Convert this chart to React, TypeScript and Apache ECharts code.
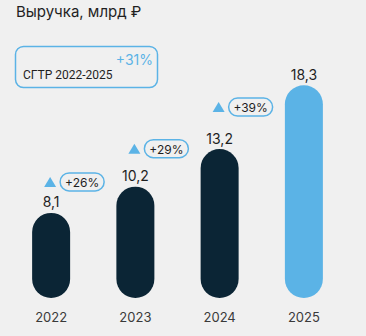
import React, { useEffect, useRef } from "react";
import * as echarts from "echarts";

// Revenue, bn RUB
const years = ["2022", "2023", "2024", "2025"];
const revenue = [8.1, 10.2, 13.2, 18.3];
const revenueLabels = ["8,1", "10,2", "13,2", "18,3"];
// year-over-year growth, shown above the preceding year's bar
const growthLabels = ["+26%", "+29%", "+39%"];
const cagrLabel = "+31%";
const cagrCaption = "СГТР 2022-2025";
const title = "Выручка, млрд ₽";

const DARK = "#0b2535";
const LIGHT = "#5bb3e6";
const TEXT = "#1f1f1f";
const FONT = "Inter, 'Noto Sans', sans-serif";
const BAR_W = 38;
// vertical lift of each growth badge above its bar top, px
const badgeLift = [31, 38, 42];

export default function App() {
  const ref = useRef<HTMLDivElement>(null);

  useEffect(() => {
    if (!ref.current) return;
    const chart = echarts.init(ref.current, null, { renderer: "svg" });

    const barData = revenue.map((v, i) => [i, v]);
    const badgeData = growthLabels.map((_, i) => [i, revenue[i]]);

    chart.setOption({
      animation: false,
      backgroundColor: "#f0f0f0",
      grid: { left: 9, right: 20, top: 64, bottom: 38 },
      xAxis: {
        type: "category",
        data: years,
        axisLine: { show: false },
        axisTick: { show: false },
        axisLabel: {
          color: "#3a3a3a",
          fontSize: 13,
          fontFamily: FONT,
          margin: 12,
        },
      },
      yAxis: {
        type: "value",
        min: 1.3,
        max: 20,
        show: false,
        splitLine: { show: false },
      },
      graphic: [
        {
          type: "text",
          left: 16,
          top: 4,
          style: {
            text: title,
            fill: TEXT,
            fontSize: 15,
            fontFamily: FONT,
          },
        },
        {
          type: "rect",
          shape: { x: 15.5, y: 46.5, width: 142, height: 41, r: 8 },
          style: { fill: "none", stroke: LIGHT, lineWidth: 1.5 },
        },
        {
          type: "text",
          x: 153,
          y: 52,
          style: {
            text: cagrLabel,
            fill: LIGHT,
            fontSize: 14,
            fontFamily: FONT,
            align: "right",
            verticalAlign: "top",
          },
        },
        {
          type: "text",
          x: 23,
          y: 69,
          style: {
            text: cagrCaption,
            fill: TEXT,
            fontSize: 12,
            fontFamily: "Roboto, Inter, sans-serif",
            align: "left",
            verticalAlign: "top",
          },
        },
      ],
      series: [
        {
          type: "custom",
          data: barData,
          renderItem: (params: any, api: any) => {
            const i = api.value(0);
            const v = api.value(1);
            const top = api.coord([i, v]);
            const cs = params.coordSys;
            const bottom = cs.y + cs.height;
            const color = i === revenue.length - 1 ? LIGHT : DARK;
            return {
              type: "group",
              children: [
                {
                  type: "rect",
                  shape: {
                    x: top[0] - BAR_W / 2,
                    y: top[1],
                    width: BAR_W,
                    height: bottom - top[1],
                    r: BAR_W / 2,
                  },
                  style: { fill: color },
                },
                {
                  type: "text",
                  x: top[0],
                  y: top[1] - 4,
                  style: {
                    text: revenueLabels[i],
                    fill: TEXT,
                    fontSize: 14,
                    fontFamily: FONT,
                    align: "center",
                    verticalAlign: "bottom",
                  },
                },
              ],
            };
          },
        },
        {
          type: "custom",
          data: badgeData,
          renderItem: (params: any, api: any) => {
            const i = api.value(0);
            const v = api.value(1);
            const p = api.coord([i, v]);
            const cx = p[0] - 1;
            const cy = p[1] - badgeLift[i];
            const pillX = p[0] + 9;
            const pillW = 44;
            const pillH = 18;
            return {
              type: "group",
              children: [
                {
                  type: "polygon",
                  shape: {
                    points: [
                      [cx - 6, cy + 5],
                      [cx + 6, cy + 5],
                      [cx, cy - 5],
                    ],
                  },
                  style: { fill: LIGHT },
                },
                {
                  type: "rect",
                  shape: {
                    x: pillX,
                    y: cy - pillH / 2,
                    width: pillW,
                    height: pillH,
                    r: pillH / 2,
                  },
                  style: { fill: "none", stroke: LIGHT, lineWidth: 1.5 },
                },
                {
                  type: "text",
                  x: pillX + pillW / 2,
                  y: cy + 0.5,
                  style: {
                    text: growthLabels[i],
                    fill: TEXT,
                    fontSize: 12,
                    fontFamily: FONT,
                    align: "center",
                    verticalAlign: "middle",
                  },
                },
              ],
            };
          },
        },
      ],
    });

    return () => chart.dispose();
  }, []);

  return (
    <div
      ref={ref}
      style={{ position: "fixed", left: 0, top: 0, width: 366, height: 336 }}
    />
  );
}
